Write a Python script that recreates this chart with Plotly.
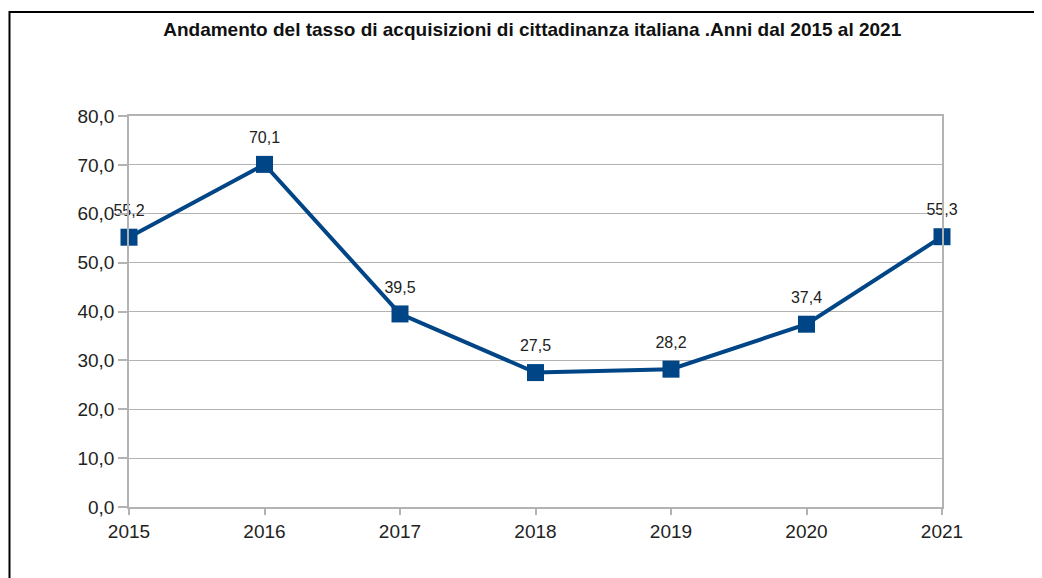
import plotly.graph_objects as go

# tasso di acquisizioni di cittadinanza per anno
anni = [2015, 2016, 2017, 2018, 2019, 2020, 2021]
tasso = [55.2, 70.1, 39.5, 27.5, 28.2, 37.4, 55.3]
y_ticks = [0, 10, 20, 30, 40, 50, 60, 70, 80]

blu = "#004586"
grigio = "#b3b3b3"

fig = go.Figure()
fig.add_trace(go.Scatter(
    x=anni, y=tasso,
    mode="lines+markers",
    line=dict(color=blu, width=4),
    marker=dict(symbol="square", size=17, color=blu),
    cliponaxis=False,
    showlegend=False, hoverinfo="skip",
))
# etichette dei valori (marker invisibile più grande per staccarle dal punto)
fig.add_trace(go.Scatter(
    x=anni, y=tasso,
    mode="markers+text",
    marker=dict(size=26, color="rgba(0,0,0,0)"),
    texttemplate="%{y:.1f}",
    textposition="top center",
    textfont=dict(family="Liberation Sans", size=16, color="#222"),
    cliponaxis=False,
    showlegend=False,
))

fig.update_xaxes(
    range=[2015, 2021], tickvals=anni, showgrid=False,
    showline=True, linecolor=grigio, linewidth=1.5, mirror=True,
    ticks="outside", ticklen=6, tickcolor=grigio, tickwidth=1.5,
    tickfont=dict(family="Liberation Sans", size=19, color="#222"),
    zeroline=False,
)
fig.update_yaxes(
    range=[0, 80], tickvals=y_ticks, tickformat=".1f",
    showgrid=True, gridcolor=grigio, gridwidth=1.2,
    showline=True, linecolor=grigio, linewidth=1.5, mirror=True,
    ticks="outside", ticklen=9, tickcolor=grigio, tickwidth=1.5,
    tickfont=dict(family="Liberation Sans", size=19, color="#222"),
    zeroline=False,
)

# cornice esterna del grafico
fig.add_shape(type="rect", xref="paper", yref="paper",
              x0=-0.147, x1=1.2, y0=-0.3, y1=1.266,
              line=dict(color="black", width=2), layer="below")

fig.update_layout(
    width=1034, height=570,
    separators=",.",
    margin=dict(l=121, r=100, t=108, b=71),
    paper_bgcolor="white", plot_bgcolor="white",
    title=dict(
        text="<b>Andamento del tasso di acquisizioni di cittadinanza italiana .Anni dal 2015 al 2021</b>",
        x=0.507, xanchor="center", y=0.963, yanchor="middle",
        font=dict(family="Liberation Sans", size=19, color="#111"),
    ),
)

fig.write_html("out.html")
